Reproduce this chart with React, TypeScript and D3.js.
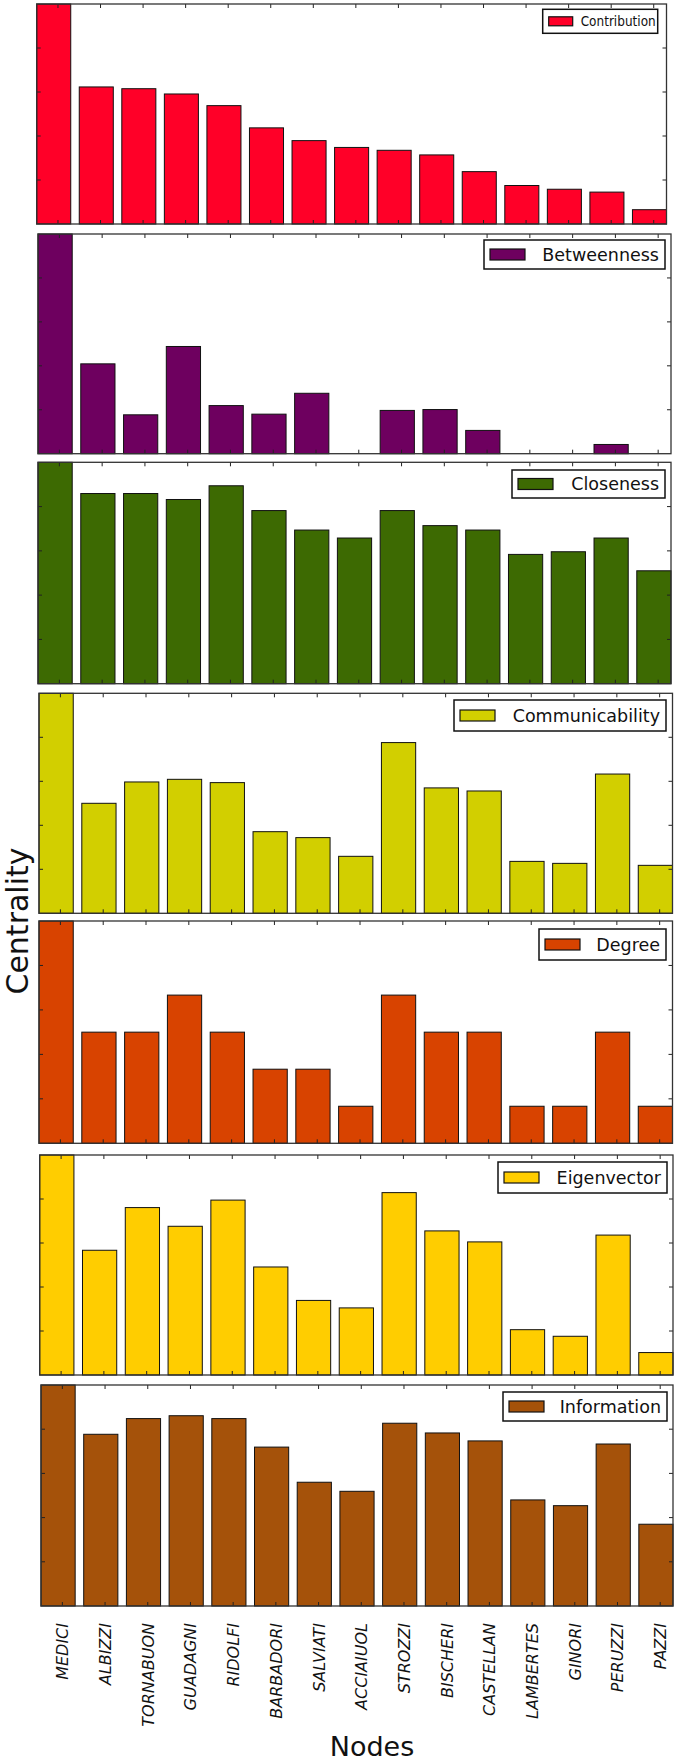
import React from "react";
import * as d3 from "d3";

const nodes = ["MEDICI","ALBIZZI","TORNABUON","GUADAGNI","RIDOLFI","BARBADORI","SALVIATI","ACCIAIUOL","STROZZI","BISCHERI","CASTELLAN","LAMBERTES","GINORI","PERUZZI","PAZZI"];

const contribution = [1.0,0.623,0.615,0.591,0.538,0.437,0.379,0.348,0.335,0.314,0.238,0.175,0.158,0.145,0.065];
const betweenness = [1.0,0.409,0.177,0.488,0.219,0.180,0.275,0,0.197,0.201,0.106,0,0,0.042,0];
const closeness = [1.0,0.859,0.859,0.832,0.894,0.782,0.694,0.658,0.782,0.714,0.694,0.584,0.596,0.658,0.51];
const communicability = [1.0,0.5,0.597,0.609,0.594,0.371,0.344,0.259,0.776,0.57,0.556,0.236,0.227,0.633,0.218];
const degree = [6,3,3,4,3,2,2,1,4,3,3,1,1,3,1];
const eigenvector = [1.0,0.567,0.761,0.676,0.795,0.491,0.339,0.305,0.829,0.655,0.605,0.206,0.176,0.636,0.102];
const information = [1.0,0.777,0.848,0.861,0.848,0.719,0.56,0.519,0.827,0.783,0.747,0.48,0.454,0.733,0.37];

const seriesNames = ["Contribution","Betweenness","Closeness","Communicability","Degree","Eigenvector","Information"];
const seriesValues = [contribution, betweenness, closeness, communicability, degree, eigenvector, information];
const seriesColors = ["#ff0028","#6e005f","#3d6a02","#d2cf00","#d84300","#ffcd00","#a5520a"];

// panel frames [left, top, right, bottom]
const panelBoxes = [
  [36.7, 4, 666.5, 224],
  [38, 234, 671, 453.7],
  [38, 462.3, 671, 683.7],
  [39, 693.3, 672.5, 913.3],
  [39, 921, 672.5, 1143.3],
  [39.7, 1155, 673, 1375],
  [41, 1385, 673, 1606],
];
// legend boxes [x0, y0, x1, y1]
const legendBoxes = [
  [542.7, 9.3, 657.7, 33.3],
  [484, 240, 665, 269],
  [512, 470, 665, 498],
  [454, 700, 666, 731],
  [539, 929, 666, 960],
  [498, 1162, 667, 1193],
  [503, 1392, 667, 1421],
];

const FONT = "DejaVu Sans, sans-serif";

function Panel({ idx }: { idx: number }) {
  const [l, t, r, b] = panelBoxes[idx];
  const vals = seriesValues[idx];
  const color = seriesColors[idx];
  const x = d3.scaleLinear().domain([0, 14.8]).range([l, r]);
  const y = d3.scaleLinear().domain([0, d3.max(vals) as number]).range([b, t]);
  const yTicks = d3.range(1, 5).map((k) => (k * (d3.max(vals) as number)) / 5);
  const xTicks = d3.range(15).map((i) => i + 0.5);
  const [lx0, ly0, lx1, ly1] = legendBoxes[idx];
  const lh = ly1 - ly0;
  const small = idx === 0;
  const patchW = small ? 24 : 35;
  const patchH = small ? 9 : 11;
  const cy = (ly0 + ly1) / 2;
  return (
    <g>
      <rect x={l} y={t} width={r - l} height={b - t} fill="#fff" />
      {vals.map((v, i) => (
        v > 0 ? (
          <rect key={i} x={x(i)} y={y(v)} width={x(i + 0.8) - x(i)} height={b - y(v)}
            fill={color} stroke="#111" strokeWidth={1} />
        ) : null
      ))}
      {xTicks.map((tv, i) => (
        <g key={"xt" + i} stroke="#222" strokeWidth={1}>
          <line x1={x(tv)} x2={x(tv)} y1={t} y2={t + 4} />
          <line x1={x(tv)} x2={x(tv)} y1={b} y2={b - 4} />
        </g>
      ))}
      {yTicks.map((tv, i) => (
        <g key={"yt" + i} stroke="#222" strokeWidth={1}>
          <line x1={l} x2={l + 4} y1={y(tv)} y2={y(tv)} />
          <line x1={r} x2={r - 4} y1={y(tv)} y2={y(tv)} />
        </g>
      ))}
      <rect x={l} y={t} width={r - l} height={b - t} fill="none" stroke="#333" strokeWidth={1.3} />
      <rect x={lx0} y={ly0} width={lx1 - lx0} height={lh} fill="#fff" stroke="#111" strokeWidth={1.5} />
      <rect x={lx0 + 6} y={cy - patchH / 2} width={patchW} height={patchH} fill={color} stroke="#111" strokeWidth={1.2} />
      {small ? (
        <text x={lx0 + 38} y={cy + 4.5} fontFamily={FONT} fontSize={13.5} fill="#111"
          textLength={75} lengthAdjust="spacingAndGlyphs">{seriesNames[idx]}</text>
      ) : (
        <text x={lx1 - 6} y={cy + 6} textAnchor="end" fontFamily={FONT} fontSize={17.5} fill="#111">{seriesNames[idx]}</text>
      )}
    </g>
  );
}

export default function App() {
  const [l, , r, b] = panelBoxes[6];
  const x = d3.scaleLinear().domain([0, 14.8]).range([l, r]);
  return (
    <svg width={675} height={1761} style={{ display: "block", position: "absolute", left: 0, top: 0, background: "#fff" }}>
      <rect x={0} y={0} width={675} height={1761} fill="#fff" />
      {seriesNames.map((_, i) => <Panel key={i} idx={i} />)}
      {nodes.map((n, i) => (
        <text key={n} transform={`translate(${x(i + 0.5) + 6},${b + 17}) rotate(-90)`}
          textAnchor="end" fontFamily={FONT} fontSize={16} fontStyle="italic" fill="#111">{n}</text>
      ))}
      <text x={372} y={1756} textAnchor="middle" fontFamily={FONT} fontSize={27} fill="#111">Nodes</text>
      <text transform={`translate(28,921) rotate(-90)`} textAnchor="middle" fontFamily={FONT} fontSize={30} fill="#111">Centrality</text>
    </svg>
  );
}
